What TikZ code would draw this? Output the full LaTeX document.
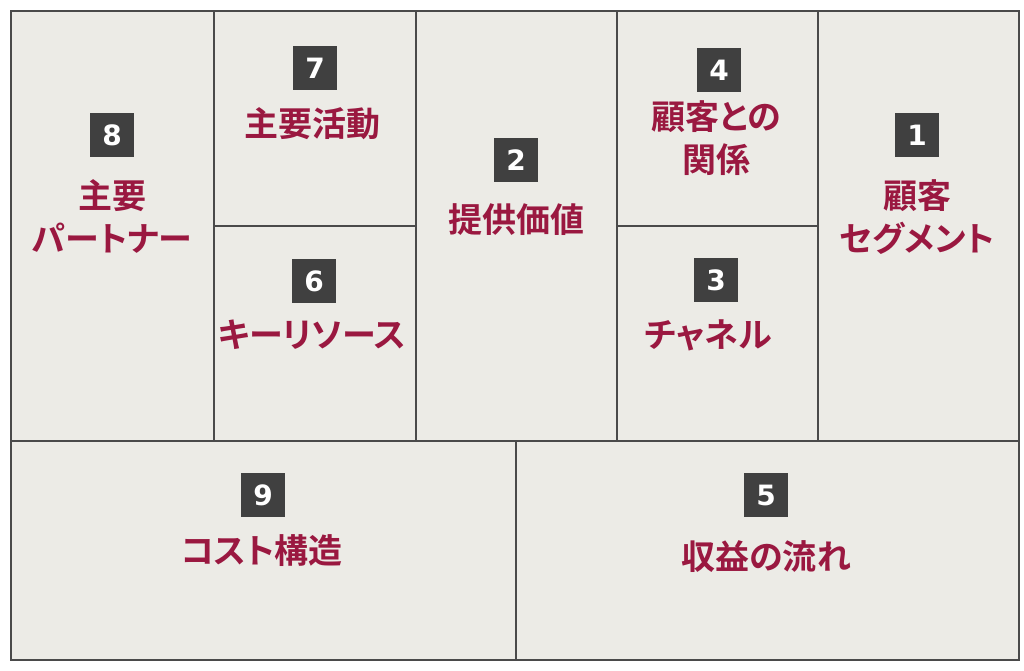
\documentclass[tikz,border=0pt]{standalone}
\usepackage{fontspec}
\newfontfamily\jpfont{Noto Sans CJK JP}[BoldFont={Noto Sans CJK JP Bold},RawFeature=+palt]
\newfontfamily\numfont{DejaVu Sans}
\definecolor{cellfill}{HTML}{ECEBE6}
\definecolor{cellline}{HTML}{4A4A4A}
\definecolor{numfill}{HTML}{404040}
\definecolor{labeltext}{HTML}{9A1840}
\tikzset{
    cell/.style = {
        fill = cellfill,
        draw = cellline,
        line width = 2pt,
        },
    number/.style = {
        fill = numfill,
        text = white,
        minimum size = 44pt,
        inner sep = 0pt,
        font = \numfont\bfseries\fontsize{28}{28}\selectfont,
        },
    label/.style = {
        text = labeltext,
        align = center,
        inner sep = 0pt,
        font = \jpfont\bfseries\fontsize{34}{43}\selectfont,
        },
}
\begin{document}
\begin{tikzpicture}[x=1pt, y=-1pt]
        \useasboundingbox (0,0) rectangle (1024,670);
        \fill[white] (0,0) rectangle (1024,670);

        % cells
        \draw[cell] (11,11) rectangle (214,441);
        \draw[cell] (214,11) rectangle (416,226);
        \draw[cell] (214,226) rectangle (416,441);
        \draw[cell] (416,11) rectangle (617,441);
        \draw[cell] (617,11) rectangle (818,226);
        \draw[cell] (617,226) rectangle (818,441);
        \draw[cell] (818,11) rectangle (1019,441);
        \draw[cell] (11,441) rectangle (516,660);
        \draw[cell] (516,441) rectangle (1019,660);

        % numbers
        \node[number] (n8) at (112,135) {8};
        \node[number] (n7) at (315,68) {7};
        \node[number] (n2) at (516,160) {2};
        \node[number] (n4) at (719,70) {4};
        \node[number] (n1) at (917,135) {1};
        \node[number] (n6) at (314,281) {6};
        \node[number] (n3) at (716,280) {3};
        \node[number] (n9) at (263,495) {9};
        \node[number] (n5) at (766,495) {5};

        % labels
        \node[label] (l8) at (112,216) {主要\\パートナー};
        \node[label] (l7) at (312,124) {主要活動};
        \node[label] (l2) at (516,220) {提供価値};
        \node[label] (l4) at (716,138) {顧客との\\関係};
        \node[label] (l1) at (917,217) {顧客\\セグメント};
        \node[label] (l6) at (312,335) {キーリソース};
        \node[label] (l3) at (708,335) {チャネル};
        \node[label] (l9) at (262,551) {コスト構造};
        \node[label] (l5) at (766,557) {収益の流れ};
\end{tikzpicture}
\end{document}
